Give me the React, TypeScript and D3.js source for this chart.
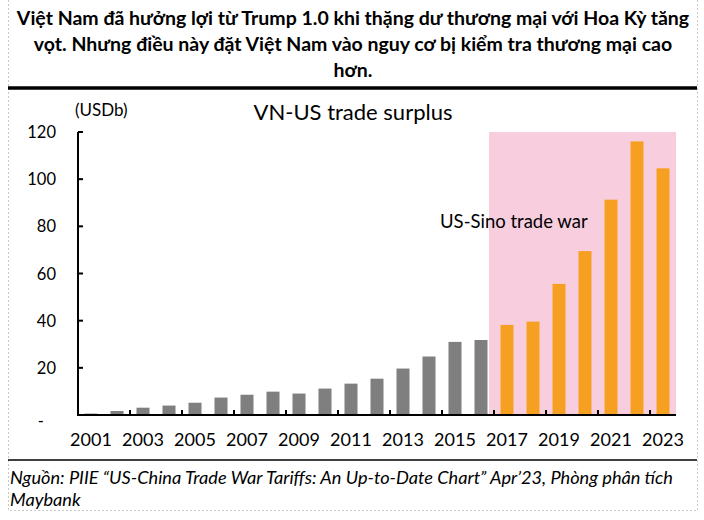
import React from "react";
import * as d3 from "d3";

const years = ["2001","2002","2003","2004","2005","2006","2007","2008","2009","2010","2011","2012","2013","2014","2015","2016","2017","2018","2019","2020","2021","2022","2023"];
const surplus = [0.6,1.7,3.1,4.0,5.2,7.4,8.6,9.9,9.1,11.2,13.3,15.4,19.7,24.8,31.0,31.8,38.2,39.6,55.6,69.5,91.3,116.0,104.6];
const tradeWarStart = "2017";
const yTicks = [0,20,40,60,80,100,120];
const xLabelYears = ["2001","2003","2005","2007","2009","2011","2013","2015","2017","2019","2021","2023"];
const titleLines = [
  "Việt Nam đã hưởng lợi từ Trump 1.0 khi thặng dư thương mại với Hoa Kỳ tăng",
  "vọt. Nhưng điều này đặt Việt Nam vào nguy cơ bị kiểm tra thương mại cao",
  "hơn.",
];
const sourceLines = [
  "Nguồn: PIIE “US-China Trade War Tariffs: An Up-to-Date Chart” Apr’23, Phòng phân tích",
  "Maybank",
];

export default function App() {
  const W = 704, H = 520;
  const left = 78, right = 676, top = 132, bottom = 415;
  const x = d3.scaleBand<string>().domain(years).range([left, right]).paddingInner(0.5).paddingOuter(0.25);
  const y = d3.scaleLinear().domain([0, 120]).range([bottom, top]);
  const step = x.step();
  const bw = x.bandwidth();
  const startIdx = years.indexOf(tradeWarStart);
  const pinkX = (x(years[startIdx - 1]) as number) + bw + 1.5;
  const font = "Lato, 'Open Sans', sans-serif";
  const bandStart = (i: number) => left + step * i;

  return (
    <svg width={W} height={H} style={{ position: "absolute", left: 0, top: 0 }} fontFamily={font}>
      <rect x={0} y={0} width={W} height={H} fill="#fff" />
      {/* dashed frame */}
      <path d={`M8.5,0 V510.5 H697.5 V0`} fill="none" stroke="#c8c8c8" strokeDasharray="2,2" />
      {titleLines.map((t, i) => (
        <text key={i} x={353} y={25 + i * 26} textAnchor="middle" fontWeight="bold" fontSize={19.5} fill="#000">{t}</text>
      ))}
      <line x1={8} x2={697} y1={88} y2={88} stroke="#000" strokeWidth={3.5} />

      <text x={75} y={116} fontSize={17} fill="#000">(USDb)</text>
      <text x={353} y={120} textAnchor="middle" fontSize={22} fill="#000">VN-US trade surplus</text>

      <rect x={pinkX} y={top} width={right - pinkX} height={bottom - top} fill="#F8CEDF" />
      <text x={440} y={228} fontSize={18.5} fill="#000">US-Sino trade war</text>

      {years.map((yr, i) => (
        <rect key={yr} x={x(yr)} y={y(surplus[i])} width={bw} height={bottom - y(surplus[i])}
          fill={i >= startIdx ? "#F5A021" : "#7F7F7F"} />
      ))}

      {/* y axis */}
      <line x1={left} x2={left} y1={top} y2={bottom} stroke="#000" strokeWidth={2} />
      {yTicks.map((t) => (
        <g key={t}>
          {t > 0 && <line x1={left} x2={left + 5} y1={y(t)} y2={y(t)} stroke="#000" strokeWidth={2} />}
          <text x={t === 0 ? 44 : 56} y={t === 0 ? y(t) + 12 : y(t) + 6} textAnchor="end" fontSize={16.5} fill="#000">
            {t === 0 ? "-" : t}
          </text>
        </g>
      ))}
      {/* x axis */}
      <line x1={left - 1} x2={right} y1={bottom} y2={bottom} stroke="#000" strokeWidth={2} />
      {years.map((yr, i) => (i % 2 === 0 && i > 0 ? (
        <line key={yr} x1={bandStart(i)} x2={bandStart(i)} y1={bottom} y2={bottom - 5} stroke="#000" strokeWidth={2} />
      ) : null))}
      {xLabelYears.map((yr) => (
        <text key={yr} x={(x(yr) as number) + bw / 2} y={446} textAnchor="middle" fontSize={18} fill="#000">{yr}</text>
      ))}

      <line x1={8} x2={697} y1={460} y2={460} stroke="#000" strokeWidth={1.5} />
      {sourceLines.map((t, i) => (
        <text key={i} x={10} y={484 + i * 22} fontStyle="italic" fontSize={18.2} fill="#000">{t}</text>
      ))}
    </svg>
  );
}
